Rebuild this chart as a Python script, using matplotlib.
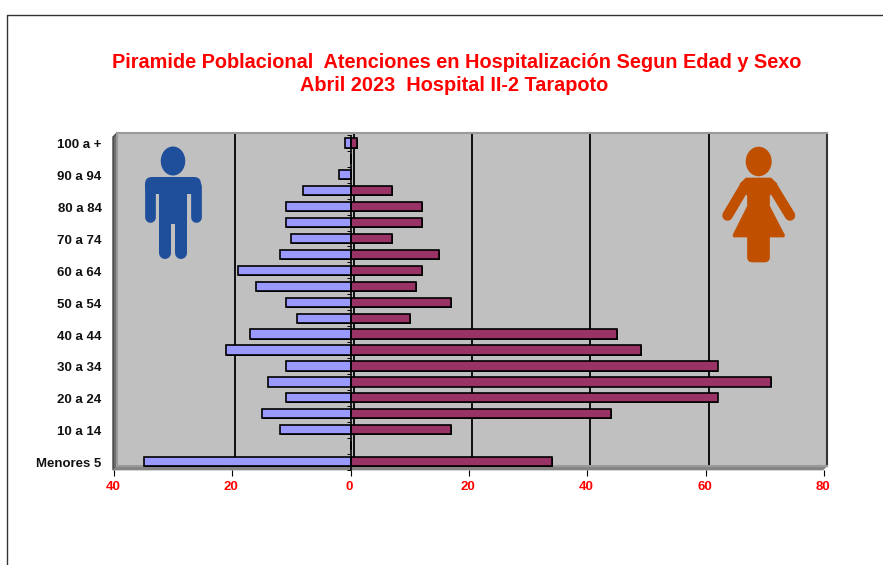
import matplotlib
matplotlib.use('Agg')
import matplotlib.pyplot as plt
import matplotlib.patheffects as pe
from matplotlib.patches import Ellipse, Polygon, Rectangle, FancyBboxPatch
from matplotlib.transforms import ScaledTranslation

plt.rcParams['font.family'] = ['Liberation Sans', 'DejaVu Sans']

# groups from the bottom of the pyramid to the top
grupos = ['Menores 5', '5 a 9', '10 a 14', '15 a 19', '20 a 24', '25 a 29', '30 a 34',
          '35 a 39', '40 a 44', '45 a 49', '50 a 54', '55 a 59', '60 a 64', '65 a 69',
          '70 a 74', '75 a 79', '80 a 84', '85 a 89', '90 a 94', '95 a 99', '100 a +']
hombres = [35, 0, 12, 15, 11, 14, 11, 21, 17, 9, 11, 16, 19, 12, 10, 11, 11, 8, 2, 0, 1]
mujeres = [34, 0, 17, 44, 62, 71, 62, 49, 45, 10, 17, 11, 12, 15, 7, 12, 12, 7, 0, 0, 1]
xticks = [-40, -20, 0, 20, 40, 60, 80]

W, H = 883, 565
fig = plt.figure(figsize=(W / 100, H / 100), dpi=100, facecolor='white')


def box(x0, y0, x1, y1):
    # pixel box (y from the top) to figure fractions
    return [x0 / W, 1 - y1 / H, (x1 - x0) / W, (y1 - y0) / H]


# overlay in pixel coordinates for the frame and walls
bg = fig.add_axes([0, 0, 1, 1], zorder=0)
bg.set_xlim(0, W)
bg.set_ylim(H, 0)
bg.axis('off')
bg.plot([7, 7, W], [H, 15, 15], color='#333333', lw=1)
bg.add_patch(Polygon([(113, 137), (117, 133), (117, 466), (113, 470)], fc='#6e6e6e', ec='#444444', lw=1))
bg.add_patch(Polygon([(113, 470), (117, 466), (827, 466), (823, 470)], fc='#858585', ec='#858585', lw=0.5))

# back wall with the gridlines, shifted from the front plane
wall = fig.add_axes(box(117, 133, 827, 466), zorder=1)
wall.set_facecolor('#c0c0c0')
wall.set_xlim(-40, 80)
wall.set_xticks(xticks)
wall.set_yticks([])
wall.tick_params(length=0, labelbottom=False)
wall.grid(axis='x', color='black', lw=1.3)
wall.set_axisbelow(True)
for s in wall.spines.values():
    s.set_color('#9a9a9a')
    s.set_linewidth(1.5)
wall.spines['right'].set_color('#333333')

# bars, with a small solid shadow for the heavier right and bottom edges
ax = fig.add_axes(box(114, 135, 824, 469.5), zorder=2)
ax.patch.set_alpha(0)
pos = list(range(len(grupos)))
sombra = [pe.SimplePatchShadow(offset=(0.7, -0.7), shadow_rgbFace='black', alpha=1), pe.Normal()]
for barras in (ax.barh(pos, [-v for v in hombres], height=0.58, color='#9999ff', edgecolor='black', linewidth=1.2),
               ax.barh(pos, mujeres, height=0.58, color='#993366', edgecolor='black', linewidth=1.2)):
    for b in barras:
        b.set_path_effects(sombra)
ax.set_xlim(-40, 80)
ax.set_ylim(-0.5, len(grupos) - 0.5)
ax.axvline(0, color='black', lw=1.2)

ax.set_xticks(xticks)
ax.set_xticklabels([str(abs(v)) for v in xticks], color='red', fontweight='bold', fontsize=9.5)
ax.tick_params(axis='x', length=4, width=0.8, pad=4)
ax.set_yticks(pos[::2])
ax.set_yticklabels(grupos[::2], fontweight='bold', fontsize=9.5, color='#111111')
ax.tick_params(axis='y', length=0, pad=9)
for s in ax.spines.values():
    s.set_visible(False)

# nudge the labels by a pixel
for lab in ax.get_xticklabels():
    lab.set_transform(lab.get_transform() + ScaledTranslation(-1 / 100, 0, fig.dpi_scale_trans))
for lab in ax.get_yticklabels():
    lab.set_transform(lab.get_transform() + ScaledTranslation(0, -1 / 100, fig.dpi_scale_trans))

# small ticks between the groups, on the zero axis
sec = ax.secondary_yaxis(40 / 120)
sec.set_yticks([p - 0.5 for p in pos] + [len(grupos) - 0.5])
sec.set_yticklabels([])
sec.tick_params(length=3, width=0.7)
sec.spines['left'].set_visible(False)

fig.text(457 / W, 1 - 62 / H, 'Piramide Poblacional  Atenciones en Hospitalización Segun Edad y Sexo',
         color='red', fontweight='bold', fontsize=14.3, ha='center', va='center')
fig.text(454 / W, 1 - 85.5 / H, 'Abril 2023  Hospital II-2 Tarapoto',
         color='red', fontweight='bold', fontsize=14.3, ha='center', va='center')

# icons on top of the wall, pixel coordinates
ico = fig.add_axes([0, 0, 1, 1], zorder=1.5)
ico.set_xlim(0, W)
ico.set_ylim(H, 0)
ico.axis('off')


def limb(pts, width, color):
    # width in px, figure is 100 dpi
    xs, ys = zip(*pts)
    ico.plot(xs, ys, color=color, lw=width * 0.72, solid_capstyle='round', solid_joinstyle='round')


azul = '#1f4e9b'
ico.add_patch(Ellipse((173, 161), 24.5, 29, color=azul, lw=0))
ico.add_patch(FancyBboxPatch((145, 177), 56, 17, boxstyle='round,pad=0,rounding_size=7', fc=azul, ec='none'))
ico.add_patch(Rectangle((156, 185), 34, 8, color=azul, lw=0))
ico.add_patch(Rectangle((159, 180), 28, 44, color=azul, lw=0))
limb([(150.4, 186), (150.4, 217)], 10.7, azul)
limb([(195.6, 186), (195.6, 217)], 10.7, azul)
limb([(165, 220), (165, 253)], 12, azul)
limb([(181, 220), (181, 253)], 12, azul)

naranja = '#c05000'
ico.add_patch(Ellipse((758.7, 161.5), 26, 29.5, color=naranja, lw=0))
limb([(745, 186), (727.5, 215.5)], 10.5, naranja)
limb([(772, 186), (790, 215.5)], 10.5, naranja)
ico.add_patch(Polygon([(746, 178), (771, 178), (777, 184), (769.5, 196), (769.5, 206), (784.5, 235),
                       (784, 237), (733.5, 237), (733, 235), (747.5, 206), (747.5, 196), (740, 184)],
                      fc=naranja, ec=naranja, lw=0.5, joinstyle='round'))
ico.add_patch(FancyBboxPatch((747.5, 232), 22, 30, boxstyle='round,pad=0,rounding_size=5',
                             fc=naranja, ec=naranja, lw=0.5))

fig.savefig('out.png', dpi=100)
